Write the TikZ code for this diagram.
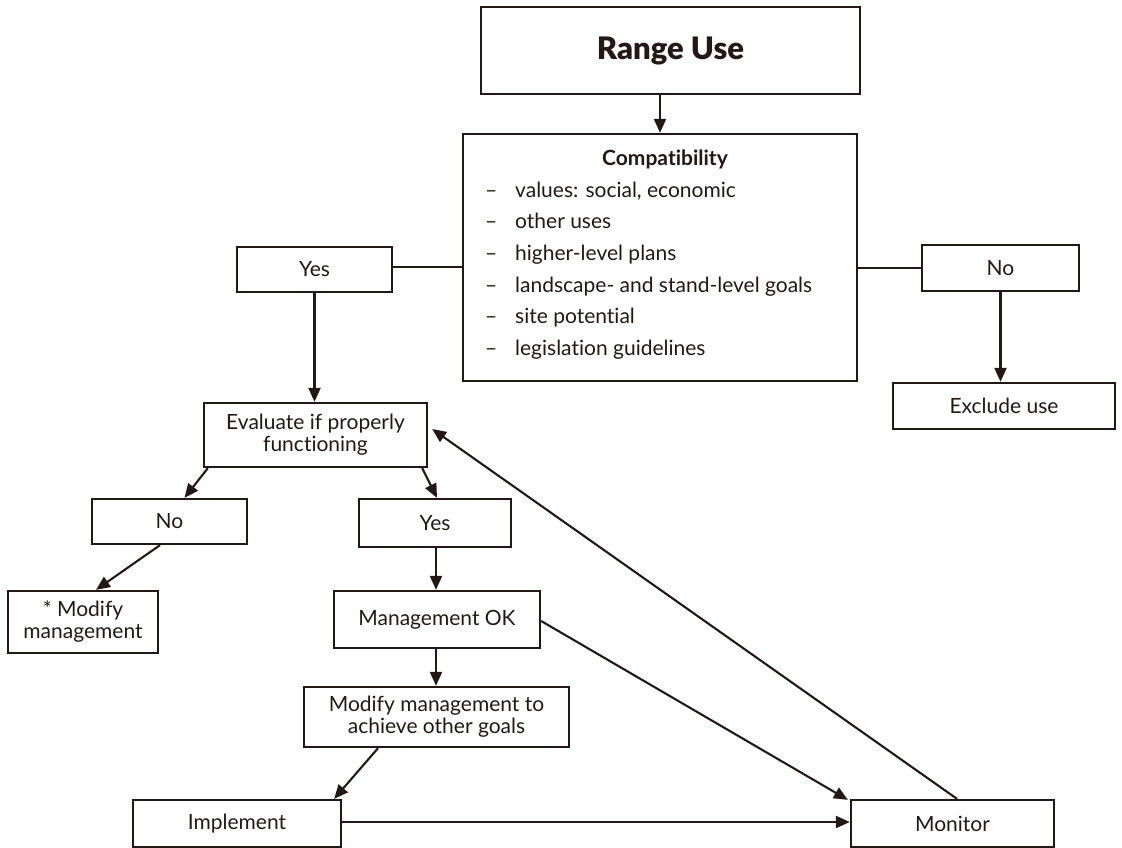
\documentclass[tikz,border=0pt]{standalone}
\usepackage{fontspec}
\setmainfont{Lato}[Ligatures=NoCommon]
\newfontfamily\titlefont{Lato Black}
\usetikzlibrary{arrows.meta,calc}
\definecolor{ink}{RGB}{35,24,21}
\tikzset{
  box/.style={draw=ink, line width=2.3pt, text=ink, inner sep=2pt, align=center,
    font=\fontsize{21}{22}\selectfont},
  conn/.style={draw=ink, line width=2.1pt},
  arr/.style={conn, -{Triangle[length=14pt,width=12pt]}},
  item/.style={anchor=base west, inner sep=0pt, text=ink, font=\fontsize{21}{22}\selectfont}
}
\begin{document}
\begin{tikzpicture}[x=1pt,y=-1pt]
\useasboundingbox (0,0) rectangle (1122,848);
% boxes
\node[box, minimum width=379pt, minimum height=87pt, font=\fontsize{31}{34}\selectfont\titlefont] (range) at (670.5,50.5) {Range Use};
\node[box, minimum width=394pt, minimum height=247pt] (compat) at (660,257.5) {};
\node[item, anchor=base, font=\fontsize{21}{22}\selectfont\bfseries] (ctitle) at (665,165) {Compatibility};
\node[item] (c1) at (485,197) {\makebox[30pt][l]{–}values: social, economic};
\node[item] (c2) at (485,228.5) {\makebox[30pt][l]{–}other uses};
\node[item] (c3) at (485,260) {\makebox[30pt][l]{–}higher-level plans};
\node[item] (c4) at (485,292) {\makebox[30pt][l]{–}landscape- and stand-level goals};
\node[item] (c5) at (485,323.5) {\makebox[30pt][l]{–}site potential};
\node[item] (c6) at (485,355) {\makebox[30pt][l]{–}legislation guidelines};
\node[box, minimum width=155pt, minimum height=45pt] (yes1) at (314.5,269.5) {Yes};
\node[box, minimum width=157pt, minimum height=46pt] (no1) at (1000.5,268) {No};
\node[box, minimum width=222pt, minimum height=46pt] (excl) at (1004,406) {Exclude use};
\node[box, minimum width=223pt, minimum height=64pt, font=\fontsize{21}{22}\selectfont] (eval) at (315.5,435) {Evaluate if properly\\functioning};
\node[box, minimum width=155pt, minimum height=45pt] (no2) at (169.5,521.5) {No};
\node[box, minimum width=152pt, minimum height=48pt] (yes2) at (435,523) {Yes};
\node[box, minimum width=150pt, minimum height=62pt, font=\fontsize{21}{22}\selectfont] (modm) at (83,622) {* Modify\\management};
\node[box, minimum width=206pt, minimum height=57pt] (mgmt) at (437,619.5) {Management OK};
\node[box, minimum width=265pt, minimum height=60pt, font=\fontsize{21}{22}\selectfont] (achv) at (436.5,717) {Modify management to\\achieve other goals};
\node[box, minimum width=208pt, minimum height=47pt] (impl) at (237,823.5) {Implement};
\node[box, minimum width=203pt, minimum height=47pt] (mon) at (952.5,823.5) {Monitor};
% helper coordinates
\coordinate (ya) at ($(yes1.east)+(0,-2.5)$);
\coordinate (y2s) at ($(yes2.south)+(1,0)$);
\coordinate (mgs) at ($(mgmt.south)+(-1,0)$);
\coordinate (ime) at ($(impl.east)+(0,-1.5)$);
% connectors
\draw[arr] (range.south -| compat.north) -- (compat.north);
\draw[conn] (ya) -- (ya -| compat.west);
\draw[conn] (no1.west) -- (no1.west -| compat.east);
\draw[arr] (yes1.south) -- (yes1.south |- eval.north);
\draw[arr] (no1.south) -- (no1.south |- excl.north);
\draw[arr] ($(eval.south west)+(5,0)$) -- ($(no2.north)+(15,0)$);
\draw[arr] ($(eval.south east)+(-6,0)$) -- ($(yes2.north)+(2,0)$);
\draw[arr] ($(no2.south)+(-9.5,0)$) -- ($(modm.north)+(13,0)$);
\draw[arr] (y2s) -- (y2s |- mgmt.north);
\draw[arr] (mgs) -- (mgs |- achv.north);
\draw[arr] ($(achv.south)+(-58.5,0)$) -- ($(impl.north east)+(-8,0)$);
\draw[arr] (ime) -- (ime -| mon.west);
\draw[arr] ($(mgmt.east)+(0,1.5)$) -- ($(mon.north west)+(-2,1)$);
\draw[arr] ($(mon.north)+(4.5,0)$) -- ($(eval.east)+(4,-6)$);
\end{tikzpicture}
\end{document}
